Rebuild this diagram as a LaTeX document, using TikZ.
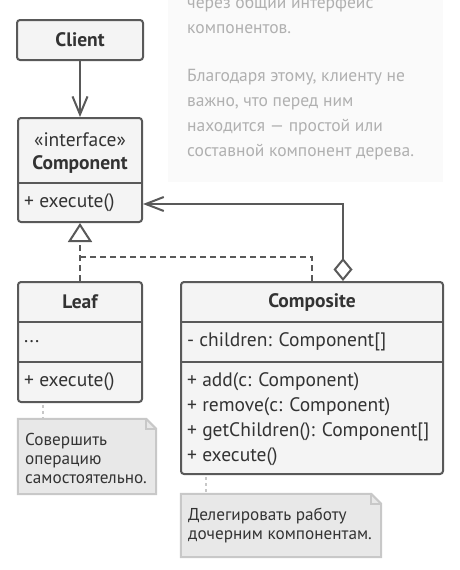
\documentclass[tikz,border=0pt]{standalone}
\usepackage{fontspec}
\setmainfont{PT Sans}
\usetikzlibrary{arrows.meta,calc}
\definecolor{stroke}{HTML}{595959}
\definecolor{boxfill}{HTML}{F4F4F4}
\definecolor{txt}{HTML}{333333}
\definecolor{notefill}{HTML}{E8E8E8}
\definecolor{noteline}{HTML}{C8C8C8}
\definecolor{panel}{HTML}{FAFAFA}
\definecolor{paneltxt}{HTML}{B0B0B0}
\begin{document}
\begin{tikzpicture}[x=1pt,y=-1pt,
  umlbox/.style={draw=stroke, fill=boxfill, line width=2pt, rounded corners=3pt, inner sep=0pt},
  divider/.style={draw=stroke, line width=2pt},
  lbl/.style={text=txt, inner sep=0pt, font=\fontsize{19.5}{25}\selectfont},
  ttl/.style={text=txt, inner sep=0pt, font=\fontsize{19.5}{25}\selectfont\bfseries},
  conn/.style={draw=stroke, line width=2pt},
  assoc/.style={conn, -{Straight Barb[length=18pt, width=15pt]}},
  realize/.style={conn, dash pattern=on 6pt off 4pt},
  realizetip/.style={realize, -{Triangle[open, length=19pt, width=24pt, fill=white]}},
  aggr/.style={conn, {Diamond[open, length=23pt, width=19pt, fill=white]}-{Straight Barb[length=18pt, width=14pt]}},
  notebg/.style={inner sep=0pt},
  noteshape/.style={draw=noteline, fill=notefill, line width=2pt},
  notetxt/.style={text=txt, inner sep=0pt, align=left, font=\fontsize{17.2}{19}\selectfont},
  noteconn/.style={draw=noteline, line width=2pt, dash pattern=on 3pt off 3pt},
  paneltext/.style={text=paneltxt, inner sep=0pt, align=left, anchor=west, font=\fontsize{17.5}{25}\selectfont}
]
\useasboundingbox (0,0) rectangle (459,570);
\fill[white] (0,0) rectangle (459,570);

% background panel
\fill[panel] (168,-10) rectangle (443,182);
\node[paneltext] (p1) at (187,14.5) {через общий интерфейс\\компонентов.};
\node[paneltext] (p2) at (187,114.5) {Благодаря этому, клиенту не\\важно, что перед ним\\находится — простой или\\составной компонент дерева.};

% Client
\node[umlbox, minimum width=126pt, minimum height=40pt] (client) at (80,40) {};
\node[ttl] (clientT) at (client.center) {Client};

% Component
\node[umlbox, minimum width=124pt, minimum height=104pt] (comp) at (80,170) {};
\draw[divider] (18,183) -- (142,183);
\node[lbl] (compS) at (80,140) {«interface»};
\node[ttl] (compT) at (80,164) {Component};
\node[lbl, anchor=west] (compM) at (24,203) {+ execute()};

% Leaf
\node[umlbox, minimum width=124pt, minimum height=120pt] (leaf) at (80,342) {};
\draw[divider] (18,322) -- (142,322);
\draw[divider] (18,362) -- (142,362);
\node[ttl] (leafT) at (80,302) {Leaf};
\node[lbl, anchor=west] (leafF) at (24,342) {...};
\node[lbl, anchor=west] (leafM) at (24,382) {+ execute()};

% Composite
\node[umlbox, minimum width=262pt, minimum height=192pt] (compo) at (312,378) {};
\draw[divider] (181,322) -- (443,322);
\draw[divider] (181,362) -- (443,362);
\node[ttl] (compoT) at (312,302) {Composite};
\node[lbl, anchor=west] (compoF) at (187,342) {- children: Component[]};
\node[lbl, anchor=west] (compoM1) at (187,382) {+ add(c: Component)};
\node[lbl, anchor=west] (compoM2) at (187,407) {+ remove(c: Component)};
\node[lbl, anchor=west] (compoM3) at (187,432) {+ getChildren(): Component[]};
\node[lbl, anchor=west] (compoM4) at (187,457) {+ execute()};

% connectors
\draw[assoc] (client.south) -- (comp.north);
\coordinate (joint) at (80,257);
\draw[realizetip] (leaf.north) -- (comp.south);
\draw[realize] (compo.north) |- (joint);
\coordinate (aggtop) at (343,204);
\draw[aggr] (compo.north -| aggtop) |- (comp.east |- aggtop);

% Note 1
\node[notebg, minimum width=138pt, minimum height=75pt] (n1) at (87,456.5) {};
\draw[noteshape] (n1.north west) -- ($(n1.north east)+(-10,0)$) -- ($(n1.north east)+(0,10)$) -- (n1.south east) -- (n1.south west) -- cycle;
\draw[noteline, line width=1.5pt] ($(n1.north east)+(-10,0)$) -- ($(n1.north east)+(-10,10)$) -- ($(n1.north east)+(0,10)$);
\node[notetxt, anchor=west] (n1t) at (25,458) {Совершить\\операцию\\самостоятельно.};
\coordinate (n1c) at (43,405);
\draw[noteconn] (n1c) -- (n1.north -| n1c);

% Note 2
\node[notebg, minimum width=200pt, minimum height=63pt] (n2) at (281,525.5) {};
\draw[noteshape] (n2.north west) -- ($(n2.north east)+(-10,0)$) -- ($(n2.north east)+(0,10)$) -- (n2.south east) -- (n2.south west) -- cycle;
\draw[noteline, line width=1.5pt] ($(n2.north east)+(-10,0)$) -- ($(n2.north east)+(-10,10)$) -- ($(n2.north east)+(0,10)$);
\node[notetxt, anchor=west] (n2t) at (188,525.5) {Делегировать работу\\дочерним компонентам.};
\coordinate (n2c) at (206,477);
\draw[noteconn] (n2c) -- (n2.north -| n2c);
\end{tikzpicture}
\end{document}
